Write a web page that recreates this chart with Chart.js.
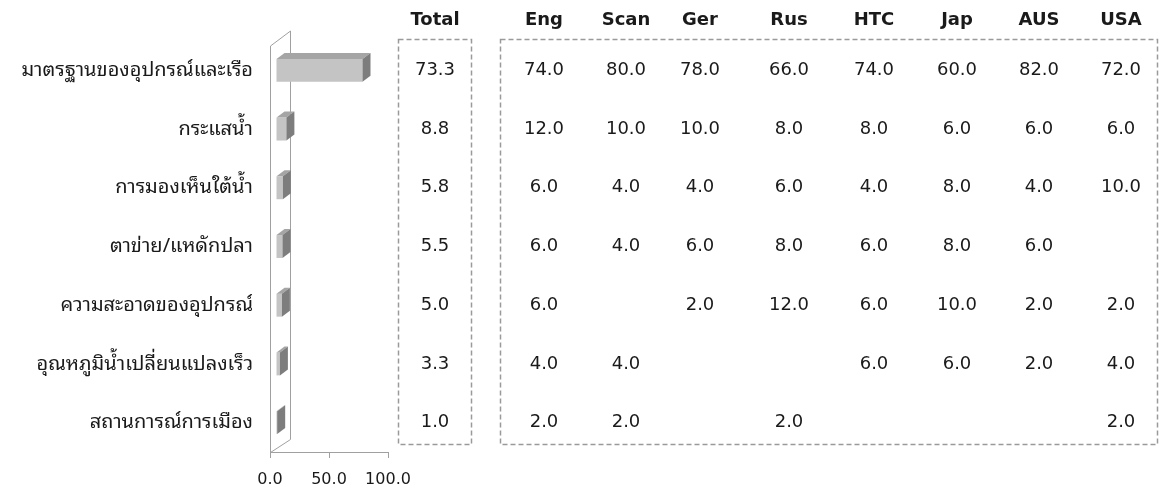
<!DOCTYPE html>
<html>
<head>
<meta charset="utf-8">
<script src="https://cdn.jsdelivr.net/npm/chart.js@4/dist/chart.umd.min.js"></script>
<style>
  html, body { margin: 0; padding: 0; background: #ffffff; }
  #wrap { width: 1162px; height: 492px; position: relative; }
</style>
</head>
<body>
<div id="wrap"><canvas id="c" width="1162" height="492"></canvas></div>
<script>
// ---------------- DATA ----------------
const categories = [
  'มาตรฐานของอุปกรณ์และเรือ',
  'กระแสน้ำ',
  'การมองเห็นใต้น้ำ',
  'ตาข่าย/แหดักปลา',
  'ความสะอาดของอุปกรณ์',
  'อุณหภูมิน้ำเปลี่ยนแปลงเร็ว',
  'สถานการณ์การเมือง'
];
const totals = [73.3, 8.8, 5.8, 5.5, 5.0, 3.3, 1.0];
const countryNames = ['Eng', 'Scan', 'Ger', 'Rus', 'HTC', 'Jap', 'AUS', 'USA'];
const eng  = [74, 12, 6, 6, 6, 4, 2];
const scan = [80, 10, 4, 4, null, 4, 2];
const ger  = [78, 10, 4, 6, 2, null, null];
const rus  = [66, 8, 6, 8, 12, null, 2];
const htc  = [74, 8, 4, 6, 6, 6, null];
const jap  = [60, 6, 8, 8, 10, 6, null];
const aus  = [82, 6, 4, 6, 2, 2, null];
const usa  = [72, 6, 10, null, 2, 4, 2];
const countryValues = [eng, scan, ger, rus, htc, jap, aus, usa];
const totalHeader = 'Total';
const xTicks = [0, 50, 100];

// ---------------- LAYOUT / STYLE ----------------
const FONT = "'DejaVu Sans', Verdana, sans-serif";
const THAI_FONT = "Tahoma, 'Noto Sans Thai Looped', 'Loma', 'Garuda', 'Norasi', 'Noto Sans Thai', 'DejaVu Sans', sans-serif";
const totalColX = 435;
const countryColX = [544, 626, 700, 789, 874, 957, 1039, 1121];
const headerY = 20;
const BAR_SHIFT = 6;     // 3D mid-depth shift of bars
const BAR_DX = 8, BAR_DY = -6;
const WALL_DX = 20, WALL_DY = -13;

const wallPlugin = {
  id: 'wall3d',
  beforeDatasetsDraw(chart) {
    const ctx = chart.ctx, a = chart.chartArea;
    ctx.save();
    ctx.strokeStyle = '#a0a0a0';
    ctx.lineWidth = 1;
    ctx.beginPath();
    const L = Math.round(a.left) + 0.5, B = Math.round(a.bottom) + 0.5, T = a.top + 5;
    ctx.moveTo(L, B);
    ctx.lineTo(L, T);
    ctx.lineTo(L + WALL_DX, T + WALL_DY - 2);
    ctx.lineTo(L + WALL_DX, B + WALL_DY);
    ctx.lineTo(L, B);
    ctx.stroke();
    ctx.restore();
    ctx.save();
    ctx.translate(BAR_SHIFT, 0);
  },
  afterDatasetsDraw(chart) {
    const ctx = chart.ctx;
    ctx.restore();
    const meta = chart.getDatasetMeta(0);
    ctx.save();
    meta.data.forEach((bar) => {
      const p = bar.getProps(['x', 'y', 'base', 'height'], true);
      const x0 = p.base + BAR_SHIFT, x1 = p.x + BAR_SHIFT;
      const top = p.y - p.height / 2, bot = p.y + p.height / 2;
      ctx.fillStyle = '#a5a5a5';
      ctx.beginPath();
      ctx.moveTo(x0, top);
      ctx.lineTo(x0 + BAR_DX, top + BAR_DY);
      ctx.lineTo(x1 + BAR_DX, top + BAR_DY);
      ctx.lineTo(x1, top);
      ctx.closePath();
      ctx.fill();
      ctx.fillStyle = '#7d7d7d';
      ctx.beginPath();
      ctx.moveTo(x1, top);
      ctx.lineTo(x1 + BAR_DX, top + BAR_DY);
      ctx.lineTo(x1 + BAR_DX, bot + BAR_DY);
      ctx.lineTo(x1, bot);
      ctx.closePath();
      ctx.fill();
    });
    ctx.restore();
  }
};

const tablePlugin = {
  id: 'table',
  afterDraw(chart) {
    const ctx = chart.ctx, ys = chart.scales.y;
    ctx.save();
    ctx.strokeStyle = '#9a9a9a';
    ctx.lineWidth = 1.5;
    ctx.setLineDash([5, 3]);
    ctx.strokeRect(398.5, 39.5, 73, 405);
    ctx.strokeRect(500.5, 39.5, 657, 405);
    ctx.setLineDash([]);
    ctx.fillStyle = '#1a1a1a';
    ctx.textAlign = 'center';
    ctx.textBaseline = 'middle';
    ctx.font = 'bold 18px ' + FONT;
    ctx.fillText(totalHeader, totalColX, headerY);
    countryNames.forEach((n, j) => ctx.fillText(n, countryColX[j], headerY));
    ctx.font = '18px ' + FONT;
    categories.forEach((c, i) => {
      const y = ys.getPixelForValue(i);
      ctx.fillText(totals[i].toFixed(1), totalColX, y);
      countryValues.forEach((arr, j) => {
        if (arr[i] !== null && arr[i] !== undefined) {
          ctx.fillText(arr[i].toFixed(1), countryColX[j], y);
        }
      });
    });
    ctx.restore();
  }
};

new Chart(document.getElementById('c'), {
  type: 'bar',
  data: {
    labels: categories,
    datasets: [{
      label: totalHeader,
      data: totals,
      backgroundColor: '#c4c4c4',
      borderWidth: 0,
      barPercentage: 0.39,
      categoryPercentage: 1.0
    }]
  },
  options: {
    indexAxis: 'y',
    responsive: false,
    devicePixelRatio: 1,
    animation: false,
    layout: { padding: { left: 0, right: 774, top: 41, bottom: 0 } },
    plugins: { legend: { display: false }, tooltip: { enabled: false } },
    scales: {
      x: {
        min: 0, max: 100,
        afterBuildTicks: (s) => { s.ticks = xTicks.map(v => ({ value: v })); },
        afterFit: (s) => { s.height = 40; },
        ticks: {
          callback: (v) => Number(v).toFixed(1),
          color: '#1a1a1a',
          font: { family: FONT, size: 16 },
          padding: 12,
          maxRotation: 0
        },
        grid: { drawOnChartArea: false, drawTicks: true, tickLength: 6, color: '#a0a0a0' },
        border: { display: true, color: '#a0a0a0' }
      },
      y: {
        afterFit: (s) => { s.width = 270; },
        ticks: {
          color: '#1a1a1a',
          font: { family: THAI_FONT, size: 20 },
          padding: 9
        },
        grid: { display: false },
        border: { display: false }
      }
    }
  },
  plugins: [wallPlugin, tablePlugin]
});
</script>
</body>
</html>
